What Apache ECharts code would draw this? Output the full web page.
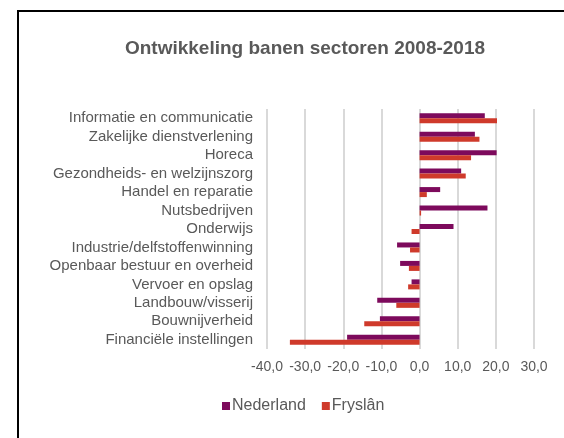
<!DOCTYPE html>
<html>
<head>
<meta charset="utf-8">
<script src="https://cdn.jsdelivr.net/npm/echarts@6/dist/echarts.min.js"></script>
<style>
  html, body { margin: 0; padding: 0; background: #fff; }
  #chart { width: 564px; height: 438px; }
</style>
</head>
<body>
<div id="chart"></div>
<script>
// sectoren, van boven naar onder
var sectoren = [
  "Informatie en communicatie",
  "Zakelijke dienstverlening",
  "Horeca",
  "Gezondheids- en welzijnszorg",
  "Handel en reparatie",
  "Nutsbedrijven",
  "Onderwijs",
  "Industrie/delfstoffenwinning",
  "Openbaar bestuur en overheid",
  "Vervoer en opslag",
  "Landbouw/visserij",
  "Bouwnijverheid",
  "Financiële instellingen"
];
var nederland = [17.1, 14.5, 20.2, 10.9, 5.4, 17.8, 8.9, -5.9, -5.1, -2.1, -11.1, -10.4, -19.0];
var fryslan = [20.3, 15.7, 13.5, 12.1, 1.9, 0.4, -2.1, -2.5, -2.8, -3.0, -6.1, -14.5, -34.0];
var xTicks = [-40, -30, -20, -10, 0, 10, 20, 30];

var textColor = "#595959";
var font = "Liberation Sans, Arial, sans-serif";

var myChart = echarts.init(document.getElementById("chart"));
myChart.setOption({
  animation: false,
  textStyle: { fontFamily: font },
  title: {
    text: "Ontwikkeling banen sectoren 2008-2018",
    left: 300,
    textAlign: "center",
    top: 34,
    textStyle: { fontSize: 19, fontWeight: "bold", color: textColor, fontFamily: font }
  },
  graphic: [{
    type: "rect",
    shape: { x: 18, y: 11, width: 600, height: 500 },
    style: { fill: "none", stroke: "#000", lineWidth: 2 },
    silent: true
  }],
  legend: {
    bottom: 19,
    left: 217,
    itemWidth: 8,
    itemHeight: 8,
    itemGap: 16,
    icon: "rect",
    textStyle: { fontSize: 16, color: textColor, fontFamily: font, padding: [0, 0, 0, -3] },
    data: ["Nederland", "Fryslân"]
  },
  grid: { left: 267, right: 30, top: 109, height: 240, containLabel: false },
  xAxis: {
    type: "value",
    min: xTicks[0],
    max: xTicks[xTicks.length - 1],
    interval: 10,
    axisLine: { show: false },
    axisTick: { show: false },
    splitLine: { lineStyle: { color: "#d9d9d9", width: 2 } },
    axisLabel: {
      fontSize: 14,
      color: textColor,
      margin: 11,
      hideOverlap: false,
      formatter: function (v) { return v.toFixed(1).replace(".", ","); }
    }
  },
  yAxis: {
    type: "category",
    inverse: true,
    data: sectoren,
    axisLine: { show: false },
    axisTick: { show: false },
    axisLabel: { fontSize: 15, color: textColor, margin: 14, interval: 0, hideOverlap: false }
  },
  series: [
    {
      name: "Nederland",
      type: "bar",
      data: nederland,
      barWidth: 5,
      barGap: "0%",
      itemStyle: { color: "#7d0a5c" }
    },
    {
      name: "Fryslân",
      type: "bar",
      data: fryslan,
      barWidth: 5,
      barGap: "0%",
      itemStyle: { color: "#cf3a2b" }
    }
  ]
});
</script>
</body>
</html>
